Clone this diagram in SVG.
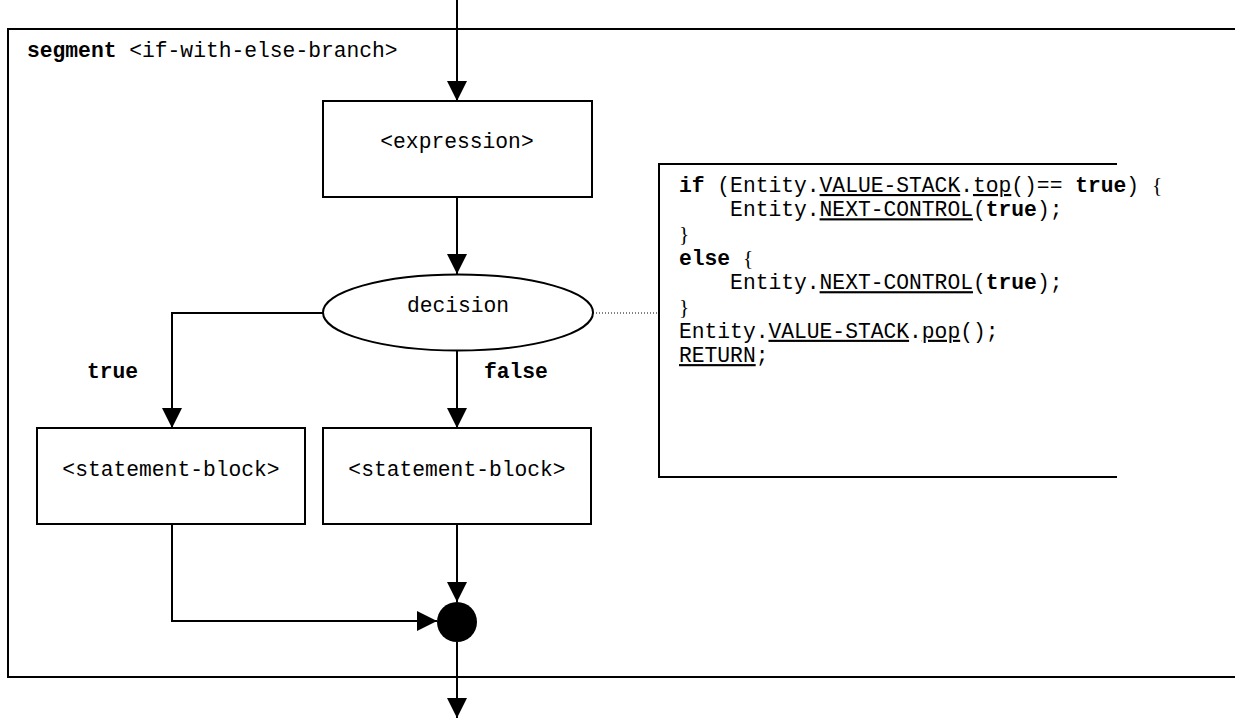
<svg xmlns="http://www.w3.org/2000/svg" width="1235" height="718" viewBox="0 0 1235 718">
<style>
.ln{fill:none;stroke:#000;stroke-width:2}
.box{fill:#fff;stroke:#000;stroke-width:2}
.t{font-family:"Liberation Mono","Courier New",monospace;font-size:21.3px;fill:#000}
.b{font-weight:bold}
.u{text-decoration:underline}
.br{font-family:"Liberation Serif","Times New Roman",serif}
</style>
<defs>
<marker id="ah" markerUnits="userSpaceOnUse" markerWidth="20" markerHeight="20" refX="20" refY="10" orient="auto" viewBox="0 0 20 20">
<path d="M0,0 L20,10 L0,20 z" fill="#000"/>
</marker>
</defs>
<rect width="1235" height="718" fill="#fff"/>
<g id="frame">
<path class="ln" d="M1240,29 H8 V677 H1240"/>
<text class="t" x="27" y="57"><tspan class="b">segment</tspan> &lt;if-with-else-branch&gt;</text>
</g>
<g id="connectors">
<path class="ln" d="M457,0 V101" marker-end="url(#ah)"/>
<path class="ln" d="M457,197 V274" marker-end="url(#ah)"/>
<path class="ln" d="M323,313 H172 V428" marker-end="url(#ah)"/>
<path class="ln" d="M457,351 V428" marker-end="url(#ah)"/>
<path class="ln" d="M457,524 V602" marker-end="url(#ah)"/>
<path class="ln" d="M172,524 V621 H437" marker-end="url(#ah)"/>
<path class="ln" d="M457,642 V718" marker-end="url(#ah)"/>
<path d="M593,313 H659" fill="none" stroke="#000" stroke-width="1" stroke-dasharray="1,2"/>
<text class="t b" x="87" y="378">true</text>
<text class="t b" x="484" y="378">false</text>
</g>
<g id="expression">
<rect class="box" x="323" y="101" width="269" height="96"/>
<text class="t" x="457" y="148" text-anchor="middle">&lt;expression&gt;</text>
</g>
<g id="decision">
<ellipse class="box" cx="458" cy="312.5" rx="135" ry="38"/>
<text class="t" x="458" y="312" text-anchor="middle">decision</text>
</g>
<g id="true-block">
<rect class="box" x="37" y="428" width="268" height="96"/>
<text class="t" x="171" y="476" text-anchor="middle">&lt;statement-block&gt;</text>
</g>
<g id="false-block">
<rect class="box" x="323" y="428" width="268" height="96"/>
<text class="t" x="457" y="476" text-anchor="middle">&lt;statement-block&gt;</text>
</g>
<g id="merge">
<circle cx="457" cy="622" r="20" fill="#000"/>
</g>
<g id="note">
<path class="ln" d="M1117,164 H659 V477 H1117"/>
<text class="t" x="679" y="192"><tspan class="b">if</tspan> (Entity.<tspan class="u">VALUE-STACK</tspan>.<tspan class="u">top</tspan>()== <tspan class="b">true</tspan>) <tspan class="br">{</tspan></text>
<text class="t" x="679" y="216.3" xml:space="preserve">    Entity.<tspan class="u">NEXT-CONTROL</tspan>(<tspan class="b">true</tspan>);</text>
<text class="t" x="679" y="240.6"><tspan class="br">}</tspan></text>
<text class="t" x="679" y="264.9"><tspan class="b">else</tspan> <tspan class="br">{</tspan></text>
<text class="t" x="679" y="289.2" xml:space="preserve">    Entity.<tspan class="u">NEXT-CONTROL</tspan>(<tspan class="b">true</tspan>);</text>
<text class="t" x="679" y="313.5"><tspan class="br">}</tspan></text>
<text class="t" x="679" y="337.8">Entity.<tspan class="u">VALUE-STACK</tspan>.<tspan class="u">pop</tspan>();</text>
<text class="t" x="679" y="362.1"><tspan class="u">RETURN</tspan>;</text>
</g>
</svg>
